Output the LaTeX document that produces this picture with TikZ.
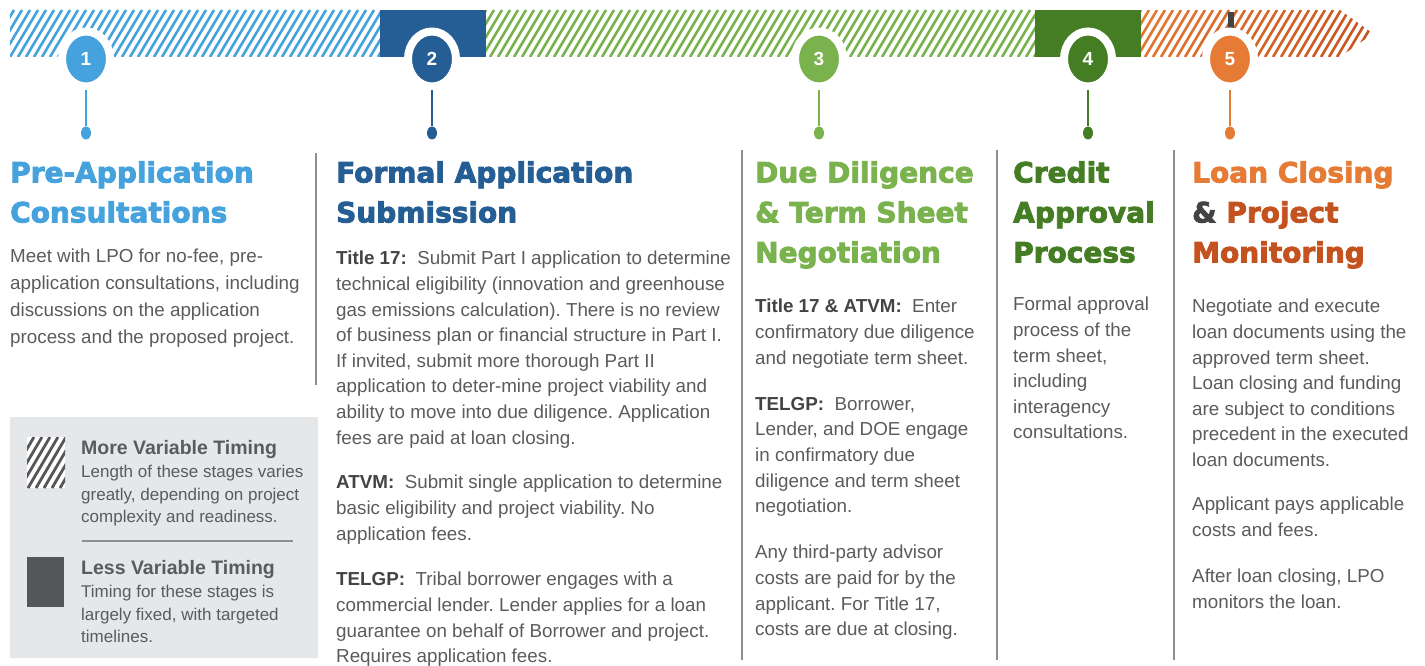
\documentclass[tikz,border=0pt]{standalone}
\usepackage{fontspec}
\setmainfont{Liberation Sans}
\newfontfamily\headfont[BoldFeatures={FakeBold=3}]{DejaVu Sans}
\usetikzlibrary{shapes.geometric}

\definecolor{lblue}{HTML}{46A2DC}
\definecolor{dblue}{HTML}{255E94}
\definecolor{lgreen}{HTML}{7AB24E}
\definecolor{dgreen}{HTML}{447D23}
\definecolor{orng}{HTML}{E57B34}
\definecolor{rust}{HTML}{C4521F}
\definecolor{txtgray}{HTML}{5A5B5D}
\definecolor{lblgray}{HTML}{434345}
\definecolor{rulegray}{HTML}{8C8E90}
\definecolor{boxgray}{HTML}{E6E7E9}
\definecolor{swatch}{HTML}{555659}

\newcommand{\lbl}[1]{\textbf{\color{lblgray}#1}}
\frenchspacing

\begin{document}
\begin{tikzpicture}[x=1pt,y=-1pt,
    stepnum/.style={ellipse,fill=#1,draw=white,line width=8pt,
      minimum width=48pt,minimum height=55pt,inner sep=0pt,text=white,
      font=\fontsize{19}{19}\selectfont\bfseries},
    stemdot/.style={ellipse,fill=#1,minimum width=10pt,minimum height=13pt,inner sep=0pt},
    stem/.style={draw=#1,line width=2.6pt},
    hatch/.style={line width=2.6pt,draw=#1},
    heading/.style={anchor=north west,inner sep=0pt,align=left,text=#1,
      font=\headfont\bfseries\fontsize{28}{40}\selectfont},
    body/.style={anchor=north west,inner sep=0pt,align=left,text=txtgray,
      font=\fontsize{18.8}{25.6}\selectfont},
    keyhead/.style={anchor=north west,inner sep=0pt,text=txtgray,
      font=\bfseries\fontsize{19.5}{22}\selectfont},
    keybody/.style={anchor=north west,inner sep=0pt,align=left,text=txtgray,
      font=\fontsize{17}{22.5}\selectfont},
    divider/.style={draw=rulegray,line width=1.4pt}]
  \useasboundingbox (0,0) rectangle (1425,666);

  % timeline bar
  \begin{scope}
    \clip (10,10) rectangle (380,57);
    \foreach \x in {-30,-22,...,380} \draw[hatch=lblue] (\x,57) -- ++(28,-47);
  \end{scope}
  \fill[dblue] (380,10) rectangle (486,57);
  \begin{scope}
    \clip (486,10) rectangle (1035,57);
    \foreach \x in {450,458,...,1035} \draw[hatch=lgreen] (\x,57) -- ++(28,-47);
  \end{scope}
  \fill[dgreen] (1035,10) rectangle (1141,57);
  \begin{scope}
    \clip (1141,10) -- (1340,10) -- (1373,33.5) -- (1340,57) -- (1141,57) -- cycle;
    \foreach \x [evaluate=\x as \pc using {int(100-(\x-1105)/2.7)}] in {1105,1113,...,1375}
      \draw[hatch=orng!\pc!rust] (\x,57) -- ++(28,-47);
  \end{scope}
  \fill[lblgray] (1228,12) rectangle (1234,30);

  % steps
  \node[stepnum=lblue] (n1) at (86,59) {1};
  \node[stepnum=dblue] (n2) at (432,59) {2};
  \node[stepnum=lgreen] (n3) at (819,59) {3};
  \node[stepnum=dgreen] (n4) at (1088,59) {4};
  \node[stepnum=orng] (n5) at (1230,59) {5};
  \node[stemdot=lblue] (d1) at (86,133) {};
  \node[stemdot=dblue] (d2) at (432,133) {};
  \node[stemdot=lgreen] (d3) at (819,133) {};
  \node[stemdot=dgreen] (d4) at (1088,133) {};
  \node[stemdot=orng] (d5) at (1230,133) {};
  \draw[stem=lblue] (n1) -- (d1);
  \draw[stem=dblue] (n2) -- (d2);
  \draw[stem=lgreen] (n3) -- (d3);
  \draw[stem=dgreen] (n4) -- (d4);
  \draw[stem=orng] (n5) -- (d5);

  % column rules
  \draw[divider] (316,153) -- (316,385);
  \draw[divider] (742,150) -- (742,660);
  \draw[divider] (997,150) -- (997,660);
  \draw[divider] (1174,150) -- (1174,660);

  % headings
  \node[heading=lblue] (t1) at (10,161) {Pre-Application\\Consultations};
  \node[heading=dblue] (t2) at (336,161) {Formal Application\\Submission};
  \node[heading=lgreen] (t3) at (755,161) {Due Diligence\\\& Term Sheet\\Negotiation};
  \node[heading=dgreen] (t4) at (1013,161) {Credit\\Approval\\Process};
  \node[heading=orng] (t5) at (1192,161) {Loan Closing\\{\color{lblgray}\&} {\color{rust}Project}\\{\color{rust}Monitoring}};

  % column texts
  \node[body,font=\fontsize{18.8}{26.8}\selectfont] (b1) at (10,249) {Meet with LPO for no-fee, pre-\\application consultations, including\\discussions on the application\\process and the proposed project.};
  \node[body] (b2a) at (336,251) {\lbl{Title 17:}\ \ Submit Part I application to determine\\technical eligibility (innovation and greenhouse\\gas emissions calculation). There is no review\\of business plan or financial structure in Part I.\\If invited, submit more thorough Part II\\application to deter-mine project viability and\\ability to move into due diligence. Application\\fees are paid at loan closing.};
  \node[body] (b2b) at (336,475) {\lbl{ATVM:}\ \ Submit single application to determine\\basic eligibility and project viability. No\\application fees.};
  \node[body] (b2c) at (336,572) {\lbl{TELGP:}\ \ Tribal borrower engages with a\\commercial lender. Lender applies for a loan\\guarantee on behalf of Borrower and project.\\Requires application fees.};
  \node[body] (b3a) at (755,299) {\lbl{Title 17 \& ATVM:}\ \ Enter\\confirmatory due diligence\\and negotiate term sheet.};
  \node[body] (b3b) at (755,397) {\lbl{TELGP:}\ \ Borrower,\\Lender, and DOE engage\\in confirmatory due\\diligence and term sheet\\negotiation.};
  \node[body] (b3c) at (755,545) {Any third-party advisor\\costs are paid for by the\\applicant. For Title 17,\\costs are due at closing.};
  \node[body] (b4) at (1013,297) {Formal approval\\process of the\\term sheet,\\including\\interagency\\consultations.};
  \node[body] (b5a) at (1192,299) {Negotiate and execute\\loan documents using the\\approved term sheet.\\Loan closing and funding\\are subject to conditions\\precedent in the executed\\loan documents.};
  \node[body] (b5b) at (1192,497) {Applicant pays applicable\\costs and fees.};
  \node[body] (b5c) at (1192,569) {After loan closing, LPO\\monitors the loan.};

  % legend
  \fill[boxgray] (10,417) rectangle (318,658);
  \fill[white] (27,437) rectangle (65,488);
  \begin{scope}
    \clip (27,437) rectangle (65,488);
    \foreach \x in {-20,-12,...,70} \draw[line width=2.8pt,swatch] (\x,488) -- ++(30,-51);
  \end{scope}
  \fill[swatch] (27,557) rectangle (64,607);
  \draw[rulegray,line width=1.2pt] (82,541) -- (293,541);
  \node[keyhead] (k1) at (81,440) {More Variable Timing};
  \node[keybody] (k1b) at (81,465) {Length of these stages varies\\greatly, depending on project\\complexity and readiness.};
  \node[keyhead] (k2) at (81,560) {Less Variable Timing};
  \node[keybody] (k2b) at (81,585) {Timing for these stages is\\largely fixed, with targeted\\timelines.};
\end{tikzpicture}
\end{document}
